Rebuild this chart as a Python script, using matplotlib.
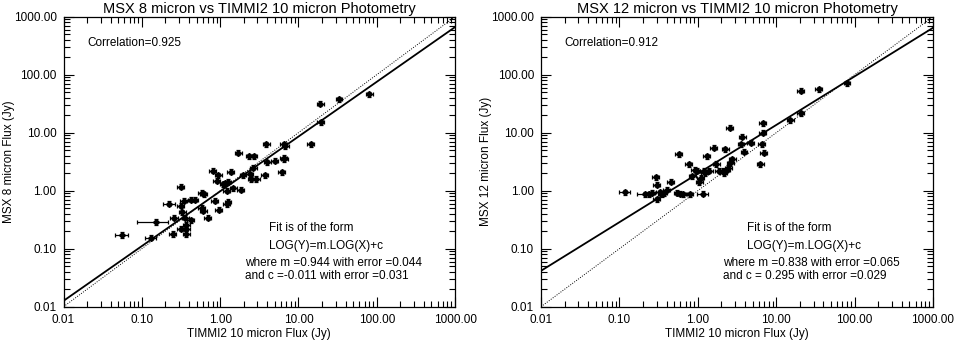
import numpy as np
import matplotlib
matplotlib.use("Agg")
import matplotlib.pyplot as plt
from matplotlib.ticker import FixedLocator, LogLocator, FuncFormatter, NullFormatter

plt.rcParams['font.family'] = ['Liberation Sans', 'DejaVu Sans']
plt.rcParams['font.size'] = 8.5

# MSX 8 micron vs TIMMI2 10 micron
timmi_8 = [0.056, 0.152, 0.13, 0.225, 0.26, 0.25, 0.315, 0.315, 0.33, 0.315,
           0.345, 0.36, 0.37, 0.37, 0.37, 0.43, 0.42, 0.48, 0.58, 0.62,
           0.58, 0.61, 0.69, 0.81, 0.86, 0.91, 0.95, 0.96, 1.10, 1.17,
           1.22, 1.27, 1.22, 1.27, 1.37, 1.48, 1.71, 1.84, 1.97, 2.35,
           2.7, 2.4, 2.5, 2.65, 2.9, 3.75, 4.0, 5.0, 3.9, 6.1,
           6.5, 6.8, 6.5, 6.6, 14.4, 19.0, 19.3, 33.2, 80.5]
msx_8 = [0.173, 0.29, 0.155, 0.60, 0.345, 0.18, 1.17, 0.55, 0.43, 0.22,
         0.67, 0.345, 0.26, 0.22, 0.18, 0.70, 0.31, 0.70, 0.93, 0.87,
         0.51, 0.45, 0.345, 2.22, 0.67, 1.49, 1.87, 0.47, 1.30, 1.34,
         1.0, 1.43, 0.59, 0.65, 2.13, 1.1, 4.5, 1.04, 1.87, 3.94,
         3.94, 1.94, 1.6, 2.5, 1.6, 1.87, 3.1, 3.3, 6.3, 2.1,
         6.3, 5.8, 3.7, 3.5, 6.3, 31.8, 15.3, 37.9, 46.0]
# fractional x errors (most are small)
xerr_frac_8 = [0.2, 0.43, 0.16, 0.17, 0.12] + [0.1] * 54

# MSX 12 micron vs TIMMI2 10 micron
timmi_12 = [0.118, 0.21, 0.24, 0.26, 0.29, 0.30, 0.30, 0.33, 0.35, 0.37,
            0.40, 0.45, 0.57, 0.55, 0.59, 0.65, 0.77, 0.80, 0.85, 0.91,
            0.98, 1.05, 1.10, 1.16, 1.19, 1.22, 1.31, 1.4, 1.59, 1.72,
            1.85, 2.1, 2.15, 2.25, 2.35, 2.45, 2.55, 2.6, 2.75, 3.57,
            3.7, 3.9, 4.7, 6.3, 6.6, 6.7, 6.7, 6.9, 15.2, 20.4,
            20.4, 34.7, 80.5]
msx_12 = [0.94, 0.87, 0.88, 0.93, 1.72, 1.27, 0.72, 0.94, 0.86, 0.91,
          1.04, 1.43, 4.3, 0.93, 0.89, 0.88, 2.83, 0.88, 1.78, 2.3,
          2.2, 1.42, 1.67, 0.89, 2.2, 1.98, 3.94, 2.2, 5.5, 2.9,
          2.2, 2.2, 1.98, 5.15, 2.3, 2.5, 12.2, 3.0, 3.5, 6.4,
          8.5, 4.7, 6.7, 2.85, 6.3, 10.0, 14.5, 4.5, 16.5, 53.0,
          21.5, 56.6, 71.0]
xerr_frac_12 = [0.16, 0.2] + [0.1] * 21 + [0.15] + [0.1] * 29

# fit results
m_8, m_err_8, c_8, c_err_8, corr_8 = 0.944, 0.044, -0.011, 0.031, 0.925
m_12, m_err_12, c_12, c_err_12, corr_12 = 0.838, 0.065, 0.295, 0.029, 0.912

decades = [0.01, 0.1, 1, 10, 100, 1000]


def panel(ax, x, y, xfrac, m, m_err, c, c_err, corr, title, ylabel):
    x = np.array(x)
    y = np.array(y)
    ax.errorbar(x, y, xerr=x * np.array(xfrac), yerr=y * 0.1, fmt='D',
                color='black', ms=3, elinewidth=0.9, capsize=1.5,
                capthick=0.9, zorder=3)

    xx = np.array([0.01, 1000.0])
    ax.plot(xx, 10 ** (m * np.log10(xx) + c), color='black', lw=1.3)
    ax.plot(xx, xx, color='black', lw=0.7, ls=(0, (1, 1.5)))

    ax.set_xscale('log')
    ax.set_yscale('log')
    ax.set_xlim(0.01, 1000)
    ax.set_ylim(0.01, 1000)
    fmt = FuncFormatter(lambda v, p: '%.2f' % v)
    for axis in (ax.xaxis, ax.yaxis):
        axis.set_major_locator(FixedLocator(decades))
        axis.set_major_formatter(fmt)
        axis.set_minor_locator(LogLocator(base=10, subs=np.arange(2, 10)))
        axis.set_minor_formatter(NullFormatter())
    ax.tick_params(which='both', direction='in', top=True, right=True,
                   width=0.8, labelsize=8.5)
    ax.tick_params(which='major', length=7, pad=5)
    ax.tick_params(which='minor', length=4)
    for s in ax.spines.values():
        s.set_linewidth(0.9)

    ax.set_title(title, fontsize=10.5, pad=3)
    ax.set_xlabel('TIMMI2 10 micron Flux (Jy)', labelpad=2)
    ax.set_ylabel(ylabel)
    ax.yaxis.set_label_coords(-0.125, 0.5)

    ax.text(0.06, 0.909, 'Correlation=%.3f' % corr, transform=ax.transAxes,
            va='center', ha='left')
    ax.text(0.525, 0.271, 'Fit is of the form', transform=ax.transAxes,
            va='center', ha='left')
    ax.text(0.525, 0.211, 'LOG(Y)=m.LOG(X)+c', transform=ax.transAxes,
            va='center', ha='left')
    ax.text(0.463, 0.150, 'where m =%.3f with error =%.3f' % (m, m_err),
            transform=ax.transAxes, va='center', ha='left')
    ax.text(0.463, 0.106, 'and c =%6.3f with error =%.3f' % (c, c_err),
            transform=ax.transAxes, va='center', ha='left')


fig = plt.figure(figsize=(9.55, 3.42), dpi=100)
ax1 = fig.add_axes([0.0665, 0.1032, 0.410, 0.848])
ax2 = fig.add_axes([0.5665, 0.1032, 0.4105, 0.848])

panel(ax1, timmi_8, msx_8, xerr_frac_8, m_8, m_err_8, c_8, c_err_8, corr_8,
      'MSX 8 micron vs TIMMI2 10 micron Photometry', 'MSX 8 micron Flux (Jy)')
panel(ax2, timmi_12, msx_12, xerr_frac_12, m_12, m_err_12, c_12, c_err_12,
      corr_12, 'MSX 12 micron vs TIMMI2 10 micron Photometry',
      'MSX 12 micron Flux (Jy)')

fig.savefig('out.png', dpi=100)
